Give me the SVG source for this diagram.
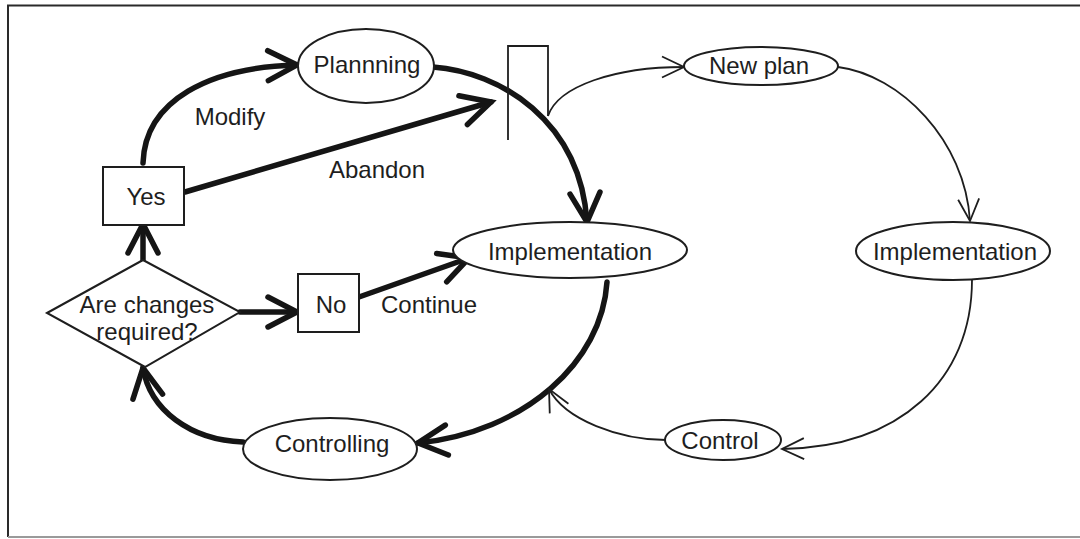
<svg xmlns="http://www.w3.org/2000/svg" width="1080" height="539" viewBox="0 0 1080 539">
  <style>
    text { font-family: "Liberation Sans", Arial, sans-serif; font-size: 24px; fill: #1e1e1e; text-anchor: middle; }
    .shape { fill: #fff; stroke: #1e1e1e; stroke-width: 2; }
    .thick { fill: none; stroke: #151515; stroke-width: 5.5; stroke-linecap: round; }
    .thin { fill: none; stroke: #1e1e1e; stroke-width: 1.8; }
    .frame { fill: none; stroke: #2a2a2a; stroke-width: 2; }
  </style>
  <defs>
    <marker id="headThick" markerUnits="userSpaceOnUse" markerWidth="80" markerHeight="80" refX="0" refY="0" orient="auto" overflow="visible">
      <path d="M-29,-15 L0,0 L-29,15" fill="none" stroke="#151515" stroke-width="5.5" stroke-linecap="round" stroke-linejoin="miter"/>
    </marker>
    <marker id="headThin" markerUnits="userSpaceOnUse" markerWidth="60" markerHeight="60" refX="0" refY="0" orient="auto" overflow="visible">
      <path d="M-22,-10.5 L0,0 L-22,10.5" fill="none" stroke="#1e1e1e" stroke-width="1.8"/>
    </marker>
  </defs>

  <rect width="1080" height="539" fill="#fff"/>

  <!-- outer frame -->
  <g id="frame">
    <path class="frame" d="M8,537 L8,5.5 L1080,5.5"/>
    <path d="M8,537 L1080,537" fill="none" stroke="#9a9a9a" stroke-width="2"/>
  </g>

  <!-- connectors -->
  <g id="connectors">
    <!-- main control loop -->
    <path class="thick" d="M143,163 C145,100 210,67 297,65" marker-end="url(#headThick)"/>
    <path class="thick" d="M185,192 L491,102" marker-end="url(#headThick)"/>
    <path class="thick" d="M433,67 C500,72 580,120 587,222" marker-end="url(#headThick)"/>
    <path class="thick" d="M607,282 C602,362 525,432 418,443" marker-end="url(#headThick)"/>
    <path class="thick" d="M243,442 C190,440 150,410 143,368" marker-end="url(#headThick)"/>
    <path class="thick" d="M143,260 L143,224" marker-end="url(#headThick)"/>
    <path class="thick" d="M240,312 L297,312" marker-end="url(#headThick)"/>
    <path class="thick" d="M359,297 L469,258" marker-end="url(#headThick)"/>
    <!-- alternative plan loop -->
    <path class="thin" d="M548,116 C558,86 615,67 684,67" marker-end="url(#headThin)"/>
    <path class="thin" d="M838,67 C900,75 965,140 970,221" marker-end="url(#headThin)"/>
    <path class="thin" d="M972,280 C972,380 900,447 782,449" marker-end="url(#headThin)"/>
    <path class="thin" d="M666,440 C620,440 565,420 549,389" marker-end="url(#headThin)"/>
  </g>

  <!-- gate bar -->
  <g id="gate">
    <path d="M508,140 L508,46 L548,46 L548,116" fill="none" stroke="#1e1e1e" stroke-width="1.8"/>
  </g>

  <g id="planning">
    <ellipse class="shape" cx="366" cy="66" rx="68" ry="37"/>
    <text x="367" y="73">Plannning</text>
  </g>

  <g id="yes">
    <rect class="shape" x="103" y="167" width="81" height="58"/>
    <text x="146" y="205">Yes</text>
  </g>

  <g id="decision">
    <polygon class="shape" points="47,313 143,260 240,312 145,367"/>
    <text x="147" y="313">Are changes</text>
    <text x="147" y="340">required?</text>
  </g>

  <g id="no">
    <rect class="shape" x="298" y="274" width="61" height="58"/>
    <text x="331" y="313">No</text>
  </g>

  <g id="implementation">
    <ellipse class="shape" cx="570" cy="250" rx="117" ry="28"/>
    <text x="570" y="260">Implementation</text>
  </g>

  <g id="controlling">
    <ellipse class="shape" cx="330" cy="449" rx="87" ry="31"/>
    <text x="332" y="452">Controlling</text>
  </g>

  <g id="new-plan">
    <ellipse class="shape" cx="761" cy="66" rx="77" ry="19"/>
    <text x="759" y="74">New plan</text>
  </g>

  <g id="implementation-2">
    <ellipse class="shape" cx="953" cy="251" rx="97" ry="29"/>
    <text x="955" y="260">Implementation</text>
  </g>

  <g id="control">
    <ellipse class="shape" cx="723" cy="440" rx="58" ry="20"/>
    <text x="720" y="449">Control</text>
  </g>

  <!-- edge labels -->
  <g id="labels">
    <text x="230" y="125">Modify</text>
    <text x="377" y="178">Abandon</text>
    <text x="429" y="313">Continue</text>
  </g>
</svg>
